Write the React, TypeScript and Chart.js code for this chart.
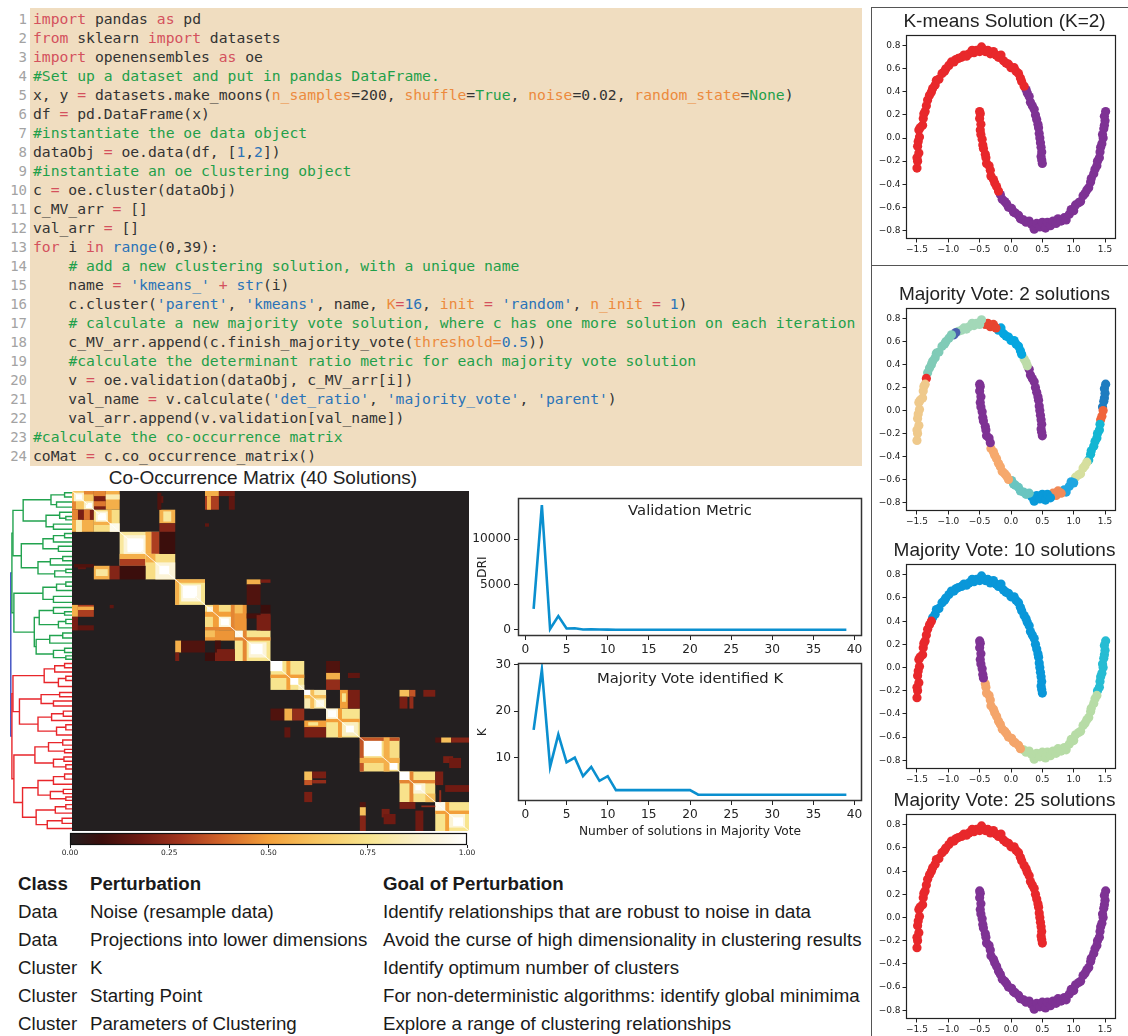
import React, { useEffect, useRef } from 'react';
import { Chart, registerables } from 'chart.js';

Chart.register(...registerables);

// ------------------------------------------------------------------ data
// Line charts: x = number of solutions in the majority vote
const N_SOLUTIONS = [
  1, 2, 3, 4, 5, 6, 7, 8, 9, 10, 11, 12, 13, 14, 15, 16, 17, 18, 19, 20,
  21, 22, 23, 24, 25, 26, 27, 28, 29, 30, 31, 32, 33, 34, 35, 36, 37, 38, 39,
];
const DRI_VALUES = [
  2300, 13750, 100, 1520, 150, 180, 40, 70, 30, 20,
  10, 10, 10, 10, 10, 10, 10, 10, 10, 10,
  10, 10, 10, 10, 10, 10, 10, 10, 10, 10,
  10, 10, 10, 10, 10, 10, 10, 10, 10,
];
const K_VALUES = [
  16, 29, 8, 15, 9, 10, 6, 8, 5, 6,
  3, 3, 3, 3, 3, 3, 3, 3, 3, 3,
  2, 2, 2, 2, 2, 2, 2, 2, 2, 2,
  2, 2, 2, 2, 2, 2, 2, 2, 2,
];
const LINE_X_TICKS = [0, 5, 10, 15, 20, 25, 30, 35, 40];
const DRI_TICKS = [0, 5000, 10000];
const K_TICKS = [10, 20, 30];

// Two-moons dataset (upper moon traced left -> right, lower moon left -> right)
const UPPER_X = [
  -1.5, -1.49, -1.5, -1.47, -1.49, -1.48, -1.46, -1.47, -1.45, -1.41,
  -1.4, -1.39, -1.37, -1.35, -1.33, -1.3, -1.27, -1.25, -1.21, -1.19,
  -1.15, -1.1, -1.06, -1.04, -0.99, -0.95, -0.91, -0.88, -0.84, -0.79,
  -0.75, -0.71, -0.67, -0.62, -0.59, -0.55, -0.5, -0.47, -0.41, -0.37,
  -0.33, -0.28, -0.24, -0.2, -0.16, -0.12, -0.08, -0.04, 0.0, 0.05,
  0.08, 0.12, 0.15, 0.17, 0.21, 0.24, 0.26, 0.29, 0.31, 0.34,
  0.37, 0.39, 0.41, 0.43, 0.44, 0.45, 0.46, 0.47, 0.48, 0.49,
  0.48, 0.49, 0.5,
];
const UPPER_Y = [
  -0.26, -0.2, -0.17, -0.13, -0.07, -0.03, 0.01, 0.07, 0.09, 0.11,
  0.17, 0.21, 0.23, 0.28, 0.33, 0.37, 0.4, 0.43, 0.46, 0.5,
  0.51, 0.56, 0.58, 0.6, 0.63, 0.66, 0.66, 0.68, 0.69, 0.7,
  0.72, 0.71, 0.73, 0.76, 0.74, 0.76, 0.75, 0.79, 0.75, 0.76,
  0.73, 0.75, 0.72, 0.7, 0.72, 0.67, 0.65, 0.64, 0.61, 0.61,
  0.58, 0.56, 0.52, 0.49, 0.45, 0.42, 0.39, 0.36, 0.31, 0.28,
  0.25, 0.2, 0.16, 0.12, 0.09, 0.04, 0.0, -0.04, -0.08, -0.12,
  -0.16, -0.19, -0.22,
];
const LOWER_X = [
  -0.5, -0.49, -0.5, -0.48, -0.49, -0.48, -0.46, -0.45, -0.44, -0.41,
  -0.4, -0.39, -0.35, -0.33, -0.32, -0.28, -0.26, -0.23, -0.2, -0.17,
  -0.14, -0.1, -0.07, -0.04, 0.01, 0.04, 0.07, 0.12, 0.15, 0.2,
  0.24, 0.29, 0.33, 0.37, 0.41, 0.46, 0.5, 0.55, 0.58, 0.63,
  0.67, 0.72, 0.75, 0.8, 0.85, 0.88, 0.93, 0.96, 1.0, 1.03,
  1.08, 1.11, 1.15, 1.18, 1.21, 1.24, 1.27, 1.28, 1.32, 1.34,
  1.37, 1.38, 1.41, 1.42, 1.43, 1.45, 1.47, 1.46, 1.48, 1.49,
  1.5, 1.49, 1.51,
];
const LOWER_Y = [
  0.23, 0.21, 0.17, 0.12, 0.07, 0.03, -0.01, -0.06, -0.09, -0.14,
  -0.17, -0.22, -0.24, -0.28, -0.33, -0.36, -0.39, -0.42, -0.46, -0.49,
  -0.53, -0.55, -0.57, -0.6, -0.61, -0.64, -0.65, -0.67, -0.7, -0.71,
  -0.73, -0.72, -0.75, -0.79, -0.74, -0.77, -0.73, -0.78, -0.73, -0.76,
  -0.72, -0.74, -0.7, -0.72, -0.69, -0.71, -0.66, -0.62, -0.63, -0.58,
  -0.56, -0.55, -0.5, -0.48, -0.45, -0.43, -0.38, -0.35, -0.31, -0.27,
  -0.24, -0.2, -0.17, -0.12, -0.08, -0.05, 0.0, 0.03, 0.08, 0.11,
  0.15, 0.19, 0.23,
];
const SCATTER_X_TICKS = [-1.5, -1.0, -0.5, 0.0, 0.5, 1.0, 1.5];
const SCATTER_Y_TICKS = [-0.8, -0.6, -0.4, -0.2, 0.0, 0.2, 0.4, 0.6, 0.8];

// cluster assignments: [moon, first index, last index, cluster id]
type Seg = ['upper' | 'lower', number, number, number];
const KMEANS_CLUSTERS: Seg[] = [
  ['upper', 0, 54, 0], ['upper', 55, 72, 1],
  ['lower', 0, 18, 0], ['lower', 19, 72, 1],
];
const MV2_CLUSTERS: Seg[] = [
  ['upper', 0, 12, 0], ['upper', 13, 13, 1], ['upper', 14, 25, 2], ['upper', 26, 27, 3],
  ['upper', 28, 37, 4], ['upper', 38, 42, 5], ['upper', 43, 53, 6], ['upper', 54, 56, 7],
  ['upper', 57, 72, 8],
  ['lower', 0, 13, 8], ['lower', 14, 23, 9], ['lower', 24, 31, 10], ['lower', 32, 39, 11],
  ['lower', 40, 43, 12], ['lower', 44, 48, 13], ['lower', 49, 54, 14], ['lower', 55, 63, 15],
  ['lower', 64, 66, 16], ['lower', 67, 72, 17],
];
const MV10_CLUSTERS: Seg[] = [
  ['upper', 0, 16, 0], ['upper', 17, 72, 1],
  ['lower', 0, 8, 2], ['lower', 9, 28, 3], ['lower', 29, 60, 4], ['lower', 61, 72, 5],
];
const MV25_CLUSTERS: Seg[] = [
  ['upper', 0, 72, 0], ['lower', 0, 72, 1],
];

// Co-occurrence matrix (200 x 200), symmetric: patches [col0, col1, row0, row1, value]
const N_ITEMS = 200;
const HEAT_PATCHES: number[][] = [
  // block 0-11
  [0, 11, 0, 11, 0.62], [0, 2, 6, 11, 0.45], [1, 6, 1, 6, 0.88], [2, 5, 2, 5, 1.0],
  [6, 11, 6, 11, 0.85], [8, 10, 7, 10, 1.0],
  // 0-11 x 11-24
  [0, 11, 11, 17, 0.2], [0, 3, 11, 17, 0.45], [6, 9, 11, 17, 0.42],
  [0, 11, 17, 24, 0.55], [2, 5, 17, 24, 0.82],
  // block 11-24
  [11, 24, 11, 24, 0.72], [18, 20, 11, 19, 0.55], [12, 18, 12, 18, 0.9], [14, 17, 13, 17, 1.0],
  [19, 24, 19, 24, 0.95],
  // block 24-44
  [24, 44, 24, 44, 0.78], [37, 40, 24, 37, 0.55], [40, 44, 24, 37, 0.3],
  [26, 37, 26, 37, 0.9], [28, 35, 28, 36, 1.0],
  // block 37-52
  [37, 52, 37, 52, 0.72], [37, 42, 37, 42, 0.55], [42, 52, 42, 52, 0.9], [44, 49, 44, 49, 1.0],
  [44, 52, 24, 37, 0.08],
  // 11-24 x 44-52
  [44, 52, 11, 19, 0.55], [46, 50, 12, 18, 0.78], [44, 52, 19, 24, 0.22],
  [44, 46, 3, 7, 0.15], [1, 11, 43, 45, 0.12],
  // block 52-67
  [52, 67, 52, 67, 0.75], [52, 54, 52, 67, 0.55], [55, 65, 55, 65, 0.92], [56, 62, 56, 63, 1.0],
  [88, 95, 52, 55, 0.55], [88, 95, 55, 67, 0.12], [95, 100, 52, 54, 0.2],
  // 0-11 x 67-82
  [67, 74, 0, 3, 0.55], [74, 82, 0, 3, 0.2], [67, 74, 3, 11, 0.3], [68, 70, 3, 11, 0.55],
  [79, 82, 3, 11, 0.15], [67, 69, 19, 21, 0.15],
  // block 67-82
  [67, 82, 67, 82, 0.72], [71, 74, 67, 82, 0.5], [80, 82, 67, 82, 0.45],
  [68, 71, 68, 71, 0.92], [74, 80, 74, 80, 0.9], [75, 79, 75, 79, 1.0],
  // block 82-100
  [82, 100, 82, 100, 0.75], [86, 88, 82, 100, 0.45], [82, 86, 82, 86, 0.95],
  [89, 98, 89, 98, 0.9], [90, 96, 90, 96, 1.0],
  // 67-82 x 82-100
  [82, 88, 67, 82, 0.48], [82, 86, 67, 72, 0.6], [88, 95, 72, 75, 0.1],
  [95, 100, 72, 82, 0.2], [95, 100, 67, 72, 0.08], [73, 82, 93, 100, 0.2],
  // block 100-117
  [100, 117, 100, 117, 0.75], [100, 117, 108, 110, 0.5], [100, 106, 100, 106, 1.0],
  [110, 114, 110, 114, 1.0], [114, 117, 114, 117, 0.85],
  // block 117-128
  [117, 128, 117, 128, 0.82], [120, 122, 117, 128, 0.6], [117, 120, 117, 120, 1.0],
  [123, 127, 123, 127, 0.95],
  // block 128-145
  [128, 145, 128, 145, 0.75], [134, 136, 128, 145, 0.5], [128, 134, 128, 134, 0.92],
  [129, 133, 129, 133, 1.0], [136, 144, 136, 144, 0.85], [138, 142, 138, 142, 1.0],
  // 117-128 x 128-145
  [135, 139, 117, 128, 0.5], [139, 145, 117, 128, 0.2], [136, 138, 119, 124, 0.75],
  // 100-117 x 128-145
  [128, 135, 100, 107, 0.12], [128, 135, 107, 111, 0.55], [128, 135, 111, 117, 0.25],
  [139, 145, 107, 110, 0.15],
  // block 145-165
  [145, 165, 145, 165, 0.72], [145, 147, 145, 165, 0.35], [157, 160, 145, 165, 0.55],
  [147, 156, 147, 156, 1.0], [160, 164, 160, 164, 1.0],
  // block 165-183
  [165, 183, 165, 183, 0.74], [170, 172, 165, 183, 0.45], [165, 170, 165, 170, 1.0],
  [172, 178, 172, 178, 0.9], [173, 176, 173, 176, 1.0], [178, 183, 178, 183, 0.6],
  // block 183-200
  [183, 200, 183, 200, 0.75], [188, 190, 183, 200, 0.5], [183, 188, 183, 188, 0.95],
  [190, 198, 190, 198, 0.9], [192, 197, 192, 197, 1.0],
  // 117-128 x 165-183
  [165, 170, 117, 121, 0.6], [170, 173, 117, 121, 0.35], [165, 169, 121, 128, 0.2],
  [170, 172, 121, 128, 0.25], [177, 183, 117, 121, 0.2],
  // 145-165 x 183-200
  [183, 186, 145, 148, 0.12], [186, 191, 145, 148, 0.6], [191, 200, 145, 148, 0.22],
  [187, 192, 156, 160, 0.2],
  // 165-183 x 183-200
  [183, 187, 165, 173, 0.2], [188, 200, 173, 177, 0.18], [185, 186, 176, 183, 0.25],
  [157, 163, 190, 196, 0.18],
];
const COLORBAR_TICKS = [0, 0.25, 0.5, 0.75, 1.0];

// Dendrogram: node = [merge distance, left, right]; leaf = number of items
type Tree = number | [number, Tree, Tree];
const B1: Tree = [0.34, [0.12, 2, 3], [0.25, 3, 3]];
const B2: Tree = [0.42, [0.2, 3, [0.1, 2, 2]], [0.3, 3, 3]];
const B3: Tree = [0.47, [0.3, [0.12, 2, 3], 2], [0.22, 3, 3]];
const B4: Tree = [0.55, [0.35, [0.15, 3, 2], 3], [0.28, [0.1, 2, 2], 3]];
const B5: Tree = [0.47, [0.25, [0.1, 3, 2], 3], [0.3, 4, 3]];
const B6: Tree = [0.53, [0.3, 3, [0.12, 2, 2]], [0.22, [0.1, 3, 2], 3]];
const B7: Tree = [0.58, [0.36, [0.15, 3, 3], 3], [0.3, [0.12, 3, 2], [0.1, 2, 2]]];
const B8: Tree = [0.45, [0.28, [0.12, 3, 2], 3], [0.22, [0.1, 2, 3], 4]];
const B9: Tree = [0.5, [0.2, 3, 2], [0.3, 3, 3]];
const B10: Tree = [0.55, [0.33, [0.14, 3, 3], 2], [0.25, [0.1, 3, 3], 3]];
const B11: Tree = [0.6, [0.38, [0.15, 3, 3], [0.12, 2, 2]], [0.3, [0.13, 3, 2], [0.1, 2, 3]]];
const B12: Tree = [0.55, [0.3, [0.12, 3, 3], 3], [0.35, [0.14, 3, 2], [0.1, 2, 2]]];
const B13: Tree = [0.58, [0.27, [0.1, 3, 2], 3], [0.4, [0.16, 3, 3], 3]];
const GREEN_TREE: Tree = [0.972, [0.955, [0.79, B1, B2], [0.82, B3, B4]], [0.94, B5, [0.61, B6, B7]]];
const RED_TREE: Tree = [0.972, [0.955, B8, [0.85, B9, B10]], [0.94, B11, [0.8, B12, B13]]];
const ROOT_DISTANCE = 0.99;

// Code listing tokens: [kind, text]
type Tok = [string, string];
const CODE_LINES: Tok[][] = [
  [['k', 'import'], ['t', ' pandas '], ['k', 'as'], ['t', ' pd']],
  [['k', 'from'], ['t', ' sklearn '], ['k', 'import'], ['t', ' datasets']],
  [['k', 'import'], ['t', ' openensembles '], ['k', 'as'], ['t', ' oe']],
  [['c', '#Set up a dataset and put in pandas DataFrame.']],
  [['t', 'x, y '], ['k', '='], ['t', ' datasets.make_moons('], ['o', 'n_samples'], ['t', '=200, '],
   ['o', 'shuffle'], ['t', '='], ['c', 'True'], ['t', ', '], ['o', 'noise'], ['t', '=0.02, '],
   ['o', 'random_state'], ['t', '='], ['c', 'None'], ['t', ')']],
  [['t', 'df '], ['k', '='], ['t', ' pd.DataFrame(x)']],
  [['c', '#instantiate the oe data object']],
  [['t', 'dataObj '], ['k', '='], ['t', ' oe.data(df, ['], ['b', '1'], ['t', ','], ['b', '2'], ['t', '])']],
  [['c', '#instantiate an oe clustering object']],
  [['t', 'c '], ['k', '='], ['t', ' oe.cluster(dataObj)']],
  [['t', 'c_MV_arr '], ['k', '='], ['t', ' []']],
  [['t', 'val_arr '], ['k', '='], ['t', ' []']],
  [['k', 'for'], ['t', ' i '], ['k', 'in'], ['t', ' '], ['b', 'range'], ['t', '(0,39):']],
  [['t', '    '], ['c', '# add a new clustering solution, with a unique name']],
  [['t', '    name '], ['k', '='], ['t', ' '], ['b', "'kmeans_'"], ['t', ' '], ['k', '+'], ['t', ' '], ['b', 'str'], ['t', '(i)']],
  [['t', '    c.cluster('], ['b', "'parent'"], ['t', ', '], ['b', "'kmeans'"], ['t', ', name, '], ['o', 'K'],
   ['k', '='], ['b', '16'], ['t', ', '], ['o', 'init'], ['t', ' '], ['k', '='], ['t', ' '], ['b', "'random'"],
   ['t', ', '], ['o', 'n_init'], ['t', ' '], ['k', '='], ['t', ' '], ['b', '1'], ['t', ')']],
  [['t', '    '], ['c', '# calculate a new majority vote solution, where c has one more solution on each iteration']],
  [['t', '    c_MV_arr.append(c.finish_majority_vote('], ['o', 'threshold'], ['o', '='], ['b', '0.5'], ['t', '))']],
  [['t', '    '], ['c', '#calculate the determinant ratio metric for each majority vote solution']],
  [['t', '    v '], ['k', '='], ['t', ' oe.validation(dataObj, c_MV_arr[i])']],
  [['t', '    val_name '], ['k', '='], ['t', ' v.calculate('], ['b', "'det_ratio'"], ['t', ', '],
   ['b', "'majority_vote'"], ['t', ', '], ['b', "'parent'"], ['t', ')']],
  [['t', '    val_arr.append(v.validation[val_name])']],
  [['c', '#calculate the co-occurrence matrix']],
  [['t', 'coMat '], ['k', '='], ['t', ' c.co_occurrence_matrix()']],
];

const TABLE_HEAD = ['Class', 'Perturbation', 'Goal of Perturbation'];
const TABLE_ROWS = [
  ['Data', 'Noise (resample data)', 'Identify relationships that are robust to noise in data'],
  ['Data', 'Projections into lower dimensions', 'Avoid the curse of high dimensionality in clustering results'],
  ['Cluster', 'K', 'Identify optimum number of clusters'],
  ['Cluster', 'Starting Point', 'For non-deterministic algorithms: identify global minimima'],
  ['Cluster', 'Parameters of Clustering', 'Explore a range of clustering relationships'],
];

// ------------------------------------------------------------------ styles
const FONT_MPL = "'DejaVu Sans', 'Liberation Sans', sans-serif";
const FONT_HELV = "'Liberation Sans', Arial, sans-serif";
const FONT_MONO = "'DejaVu Sans Mono', 'Liberation Mono', monospace";
const TEXT = '#222222';
const LINE_BLUE = '#0a8fcf';
const CODE_BG = '#f0ddc0';
const CODE_COLORS: Record<string, string> = {
  k: '#d4515d', t: '#333333', c: '#1fa04a', o: '#ec8a3d', b: '#2a73b8',
};
const RED = '#e8282b';
const PURPLE = '#7e3294';
const KMEANS_COLORS = [RED, PURPLE];
const MV2_COLORS = [
  '#efc98b', '#ea2e2c', '#80cbb7', '#4a5fae', '#a3d8b8', '#e8452f', '#05a6e0', '#bddca9', PURPLE,
  '#f6a96d', '#6ac5c0', '#0a9ad9', '#f18a58', '#1fa6e1', '#d6df9e', '#14b6d3', '#f0643a', '#1e7cc0',
];
const MV10_COLORS = [RED, '#0a97d9', PURPLE, '#f4a56b', '#b7dca6', '#26bcd3'];
const MV25_COLORS = [RED, PURPLE];
const DENDRO_GREEN = '#22a34f';
const DENDRO_RED = '#e8262b';
const DENDRO_BLUE = '#3b4cc0';
const CMAP_STOPS: [number, string][] = [
  [0.0, '#231f20'], [0.08, '#3b0e0c'], [0.18, '#6f1a12'], [0.28, '#a3351e'], [0.38, '#d1632a'],
  [0.5, '#f29f3a'], [0.62, '#f7c561'], [0.75, '#f8e48e'], [0.88, '#fbf2cf'], [1.0, '#ffffff'],
];

// ------------------------------------------------------------------ helpers
function hexRgb(h: string) {
  const n = parseInt(h.slice(1), 16);
  return [(n >> 16) & 255, (n >> 8) & 255, n & 255];
}
function cmap(v: number): string {
  const t = Math.max(0, Math.min(1, v));
  for (let i = 1; i < CMAP_STOPS.length; i++) {
    const [p1, c1] = CMAP_STOPS[i];
    if (t <= p1) {
      const [p0, c0] = CMAP_STOPS[i - 1];
      const f = (t - p0) / (p1 - p0);
      const a = hexRgb(c0), b = hexRgb(c1);
      const c = a.map((x, k) => Math.round(x + (b[k] - x) * f));
      return `rgb(${c[0]},${c[1]},${c[2]})`;
    }
  }
  return '#ffffff';
}
function fmt(v: number, d: number) {
  if (Math.abs(v) < 1e-9) return (0).toFixed(d);
  return v.toFixed(d).replace('-', '\u2212');
}
const setTicks = (vals: number[]) => (scale: any) => {
  scale.ticks = vals.map((v) => ({ value: v }));
};

const framePlugin = {
  id: 'frame',
  afterDraw(chart: any, _a: any, opts: any) {
    if (!opts || !opts.color) return;
    const { ctx, chartArea: a } = chart;
    ctx.save();
    ctx.strokeStyle = opts.color;
    ctx.lineWidth = opts.width || 1;
    ctx.strokeRect(Math.round(a.left) + 0.5, Math.round(a.top) + 0.5,
      Math.round(a.right - a.left) - 1, Math.round(a.bottom - a.top) - 1);
    ctx.restore();
  },
};

const heatPlugin = {
  id: 'heat',
  beforeDatasetsDraw(chart: any) {
    const { ctx, chartArea: a, scales } = chart;
    const xs = scales.x, ys = scales.y;
    ctx.save();
    ctx.beginPath();
    ctx.rect(a.left, a.top, a.right - a.left, a.bottom - a.top);
    ctx.clip();
    ctx.fillStyle = cmap(0);
    ctx.fillRect(a.left, a.top, a.right - a.left, a.bottom - a.top);
    const fill = (x0: number, x1: number, y0: number, y1: number, v: number) => {
      const px0 = xs.getPixelForValue(x0), px1 = xs.getPixelForValue(x1);
      const py0 = ys.getPixelForValue(y0), py1 = ys.getPixelForValue(y1);
      ctx.fillStyle = cmap(v);
      ctx.fillRect(Math.min(px0, px1), Math.min(py0, py1), Math.abs(px1 - px0), Math.abs(py1 - py0));
    };
    for (const [x0, x1, y0, y1, v] of HEAT_PATCHES) {
      fill(x0, x1, y0, y1, v);
      if (!(x0 === y0 && x1 === y1)) fill(y0, y1, x0, x1, v);
    }
    ctx.restore();
  },
};

const baseOpts = {
  animation: false as const,
  responsive: false,
  maintainAspectRatio: false,
  events: [] as any[],
};
const noLegend = { legend: { display: false }, tooltip: { enabled: false } };

function tickGrid(len: number) {
  return { display: true, drawOnChartArea: false, drawTicks: true, tickLength: len, color: TEXT, lineWidth: 1 };
}

// ------------------------------------------------------------------ configs
function scatterConfig(title: string, segs: Seg[], colors: string[]): any {
  const datasets = segs.map(([moon, from, to, id]) => {
    const xs = moon === 'upper' ? UPPER_X : LOWER_X;
    const ys = moon === 'upper' ? UPPER_Y : LOWER_Y;
    const data: { x: number; y: number }[] = [];
    for (let i = from; i <= to; i++) data.push({ x: xs[i], y: ys[i] });
    return { data, backgroundColor: colors[id], borderWidth: 0, pointRadius: 4.6, pointHoverRadius: 4.6 };
  });
  return {
    type: 'scatter',
    data: { datasets },
    options: {
      ...baseOpts,
      layout: { padding: 0 },
      plugins: {
        ...noLegend,
        title: {
          display: true, text: title, color: TEXT,
          font: { family: FONT_HELV, size: 19, weight: 'normal', lineHeight: 1.2 },
          padding: { top: 4, bottom: 2 },
        },
        frame: { color: TEXT, width: 1.2 },
      },
      scales: {
        x: {
          type: 'linear', min: -1.675, max: 1.675,
          afterBuildTicks: setTicks(SCATTER_X_TICKS),
          afterFit: (s: any) => { s.height = 20; },
          grid: tickGrid(3.5), border: { display: false },
          ticks: { font: { family: FONT_MPL, size: 9 }, color: TEXT, padding: 2, maxRotation: 0, autoSkip: false,
            callback: (v: any) => fmt(Number(v), 1) },
        },
        y: {
          type: 'linear', min: -0.875, max: 0.895,
          afterBuildTicks: setTicks(SCATTER_Y_TICKS),
          afterFit: (s: any) => { s.width = 33; },
          grid: tickGrid(3.5), border: { display: false },
          ticks: { font: { family: FONT_MPL, size: 9 }, color: TEXT, padding: 2, autoSkip: false,
            callback: (v: any) => fmt(Number(v), 1) },
        },
        // empty spacer axis on the right, keeps the title centred like the original
        yRight: {
          type: 'linear', position: 'right', min: -0.875, max: 0.895,
          afterFit: (s: any) => { s.width = 20; },
          grid: { display: false }, border: { display: false }, ticks: { display: false },
        },
      },
    },
    plugins: [framePlugin],
  };
}

function lineConfig(values: number[], yMin: number, yMax: number, yTicks: number[], yTitle: string,
  xTitle: string | null, xAxisH: number): any {
  const tickFont = { family: FONT_MPL, size: 12.2 };
  return {
    type: 'line',
    data: {
      datasets: [{
        data: N_SOLUTIONS.map((x, i) => ({ x, y: values[i] })),
        borderColor: LINE_BLUE, borderWidth: 2.6, pointRadius: 0, fill: false, tension: 0,
      }],
    },
    options: {
      ...baseOpts,
      layout: { padding: { left: 0, right: 8, top: 6, bottom: 0 } },
      plugins: { ...noLegend, frame: { color: '#333333', width: 1.5 } },
      scales: {
        x: {
          type: 'linear', min: -0.9, max: 40.9,
          afterBuildTicks: setTicks(LINE_X_TICKS),
          afterFit: (s: any) => { s.height = xAxisH; },
          grid: tickGrid(4), border: { display: false },
          ticks: { font: tickFont, color: TEXT, padding: 3, maxRotation: 0, autoSkip: false,
            callback: (v: any) => String(v) },
          title: xTitle ? {
            display: true, text: xTitle, color: TEXT, font: tickFont,
            padding: { top: 0, bottom: 4 },
          } : { display: false },
        },
        y: {
          type: 'linear', min: yMin, max: yMax,
          afterBuildTicks: setTicks(yTicks),
          afterFit: (s: any) => { s.width = 48; },
          grid: tickGrid(4), border: { display: false },
          ticks: { font: tickFont, color: TEXT, padding: 3, autoSkip: false, callback: (v: any) => String(v) },
          title: { display: true, text: yTitle, color: TEXT, font: tickFont, padding: { top: 6, bottom: 0 } },
        },
      },
    },
    plugins: [framePlugin],
  };
}

function heatConfig(): any {
  return {
    type: 'scatter',
    data: {
      datasets: [{
        data: [{ x: 0, y: 0 }, { x: N_ITEMS, y: N_ITEMS }],
        showLine: true, borderColor: 'rgba(255,255,255,0.8)', borderWidth: 1, pointRadius: 0,
      }],
    },
    options: {
      ...baseOpts,
      layout: { padding: 0 },
      plugins: { ...noLegend },
      scales: {
        x: { type: 'linear', display: false, min: 0, max: N_ITEMS },
        y: { type: 'linear', display: false, min: 0, max: N_ITEMS, reverse: true },
      },
    },
    plugins: [heatPlugin],
  };
}

type Link = { color: string; pts: number[][] };
function layoutTree(t: Tree, start: number, color: string, out: Link[]): { pos: number; h: number; end: number } {
  if (typeof t === 'number') return { pos: start + t / 2, h: 0, end: start + t };
  const [h, a, b] = t;
  const L = layoutTree(a, start, color, out);
  const R = layoutTree(b, L.end, color, out);
  out.push({ color, pts: [[L.h, L.pos], [h, L.pos], [h, R.pos], [R.h, R.pos]] });
  return { pos: (L.pos + R.pos) / 2, h, end: R.end };
}

function dendroConfig(): any {
  const links: Link[] = [];
  const g = layoutTree(GREEN_TREE, 0, DENDRO_GREEN, links);
  const r = layoutTree(RED_TREE, g.end, DENDRO_RED, links);
  links.push({ color: DENDRO_BLUE, pts: [[g.h, g.pos], [ROOT_DISTANCE, g.pos], [ROOT_DISTANCE, r.pos], [r.h, r.pos]] });
  return {
    type: 'scatter',
    data: {
      datasets: links.map((l) => ({
        data: l.pts.map(([x, y]) => ({ x, y })),
        showLine: true, borderColor: l.color, borderWidth: 1.4, pointRadius: 0, tension: 0,
      })),
    },
    options: {
      ...baseOpts,
      layout: { padding: 0 },
      plugins: { ...noLegend },
      scales: {
        x: { type: 'linear', display: false, min: 0, max: 1.1, reverse: true },
        y: { type: 'linear', display: false, min: 0, max: N_ITEMS, reverse: true },
      },
    },
  };
}

function colorbarConfig(): any {
  return {
    type: 'bar',
    data: {
      labels: ['co-occurrence'],
      datasets: [{
        data: [[COLORBAR_TICKS[0], COLORBAR_TICKS[COLORBAR_TICKS.length - 1]]],
        backgroundColor: (c: any) => {
          const a = c.chart.chartArea;
          if (!a) return cmap(0.5);
          const grad = c.chart.ctx.createLinearGradient(a.left, 0, a.right, 0);
          CMAP_STOPS.forEach(([p, col]) => grad.addColorStop(p, col));
          return grad;
        },
        borderWidth: 0, barPercentage: 1, categoryPercentage: 1,
      }],
    },
    options: {
      ...baseOpts,
      indexAxis: 'y',
      layout: { padding: { left: 20, right: 20, top: 1, bottom: 0 } },
      plugins: { ...noLegend, frame: { color: '#111111', width: 1.2 } },
      scales: {
        x: {
          type: 'linear', min: 0, max: 1,
          afterBuildTicks: setTicks(COLORBAR_TICKS),
          afterFit: (s: any) => { s.height = 16; },
          grid: tickGrid(3), border: { display: false },
          ticks: { font: { family: FONT_MPL, size: 7.5 }, color: TEXT, padding: 1, maxRotation: 0, autoSkip: false,
            callback: (v: any) => Number(v).toFixed(2) },
        },
        y: { display: false },
      },
    },
    plugins: [framePlugin],
  };
}

// ------------------------------------------------------------------ components
function ChartBox(props: { left: number; top: number; width: number; height: number; make: () => any }) {
  const ref = useRef<HTMLCanvasElement>(null);
  useEffect(() => {
    const chart = new Chart(ref.current as HTMLCanvasElement, props.make());
    return () => chart.destroy();
  }, []);
  return (
    <canvas
      ref={ref}
      width={props.width}
      height={props.height}
      style={{ position: 'absolute', left: props.left, top: props.top, width: props.width, height: props.height }}
    />
  );
}

function Abs(props: { left: number; top: number; width?: number; style?: any; children?: any }) {
  return (
    <div style={{ position: 'absolute', left: props.left, top: props.top, width: props.width, ...props.style }}>
      {props.children}
    </div>
  );
}

export default function App() {
  return (
    <div style={{ position: 'absolute', left: 0, top: 0, width: 1128, height: 1036, overflow: 'hidden', background: '#ffffff', color: TEXT }}>
      {/* code listing */}
      <div style={{ position: 'absolute', left: 30, top: 8, width: 832, height: 458, background: CODE_BG }} />
      {CODE_LINES.map((toks, i) => (
        <div key={i} style={{ position: 'absolute', left: 0, top: 8.5 + i * 19, height: 19, lineHeight: '19px',
          whiteSpace: 'pre', fontFamily: FONT_MONO, fontSize: 14.7 }}>
          <span style={{ display: 'inline-block', width: 27, textAlign: 'right', color: '#a3a3a3', fontSize: 14 }}>{i + 1}</span>
          <span style={{ display: 'inline-block', marginLeft: 6 }}>
            {toks.map(([k, s], j) => (
              <span key={j} style={{ color: CODE_COLORS[k] }}>{s}</span>
            ))}
          </span>
        </div>
      ))}

      {/* co-occurrence matrix */}
      <Abs left={40} top={466} width={446} style={{ textAlign: 'center', fontFamily: FONT_HELV, fontSize: 19, lineHeight: '24px' }}>
        Co-Occurrence Matrix (40 Solutions)
      </Abs>
      <ChartBox left={4} top={491} width={68} height={340} make={dendroConfig} />
      <ChartBox left={72} top={491} width={397} height={340} make={heatConfig} />
      <ChartBox left={50} top={832} width={437} height={29} make={colorbarConfig} />

      {/* validation metric & identified K */}
      <ChartBox left={470} top={488} width={400} height={172}
        make={() => lineConfig(DRI_VALUES, -680, 14490, DRI_TICKS, 'DRI', null, 24)} />
      <ChartBox left={470} top={653} width={400} height={190}
        make={() => lineConfig(K_VALUES, 0.65, 30.35, K_TICKS, 'K', 'Number of solutions in Majority Vote', 42)} />
      <Abs left={560} top={500} width={260} style={{ textAlign: 'center', fontFamily: FONT_MPL, fontSize: 14.8, lineHeight: '20px' }}>
        Validation Metric
      </Abs>
      <Abs left={540} top={668} width={300} style={{ textAlign: 'center', fontFamily: FONT_MPL, fontSize: 14.8, lineHeight: '20px' }}>
        Majority Vote identified K
      </Abs>

      {/* right panel */}
      <div style={{ position: 'absolute', left: 871, top: 7, width: 1, height: 1029, background: '#555555' }} />
      <div style={{ position: 'absolute', left: 871, top: 7, width: 257, height: 1, background: '#555555' }} />
      <div style={{ position: 'absolute', left: 871, top: 265, width: 257, height: 1, background: '#555555' }} />
      <ChartBox left={873} top={6} width={263} height={253}
        make={() => scatterConfig('K-means Solution (K=2)', KMEANS_CLUSTERS, KMEANS_COLORS)} />
      <ChartBox left={873} top={279} width={263} height={252}
        make={() => scatterConfig('Majority Vote: 2 solutions', MV2_CLUSTERS, MV2_COLORS)} />
      <ChartBox left={873} top={535} width={263} height={254}
        make={() => scatterConfig('Majority Vote: 10 solutions', MV10_CLUSTERS, MV10_COLORS)} />
      <ChartBox left={873} top={785} width={263} height={254}
        make={() => scatterConfig('Majority Vote: 25 solutions', MV25_CLUSTERS, MV25_COLORS)} />

      {/* perturbation table */}
      {[TABLE_HEAD, ...TABLE_ROWS].map((row, r) => (
        row.map((cell, c) => (
          <Abs key={`${r}-${c}`} left={[18, 90, 383][c]} top={870 + r * 28}
            style={{ fontFamily: FONT_HELV, fontSize: 18.7, lineHeight: '28px', whiteSpace: 'nowrap',
              fontWeight: r === 0 ? 'bold' : 'normal', color: '#1a1a1a' }}>
            {cell}
          </Abs>
        ))
      ))}
    </div>
  );
}
